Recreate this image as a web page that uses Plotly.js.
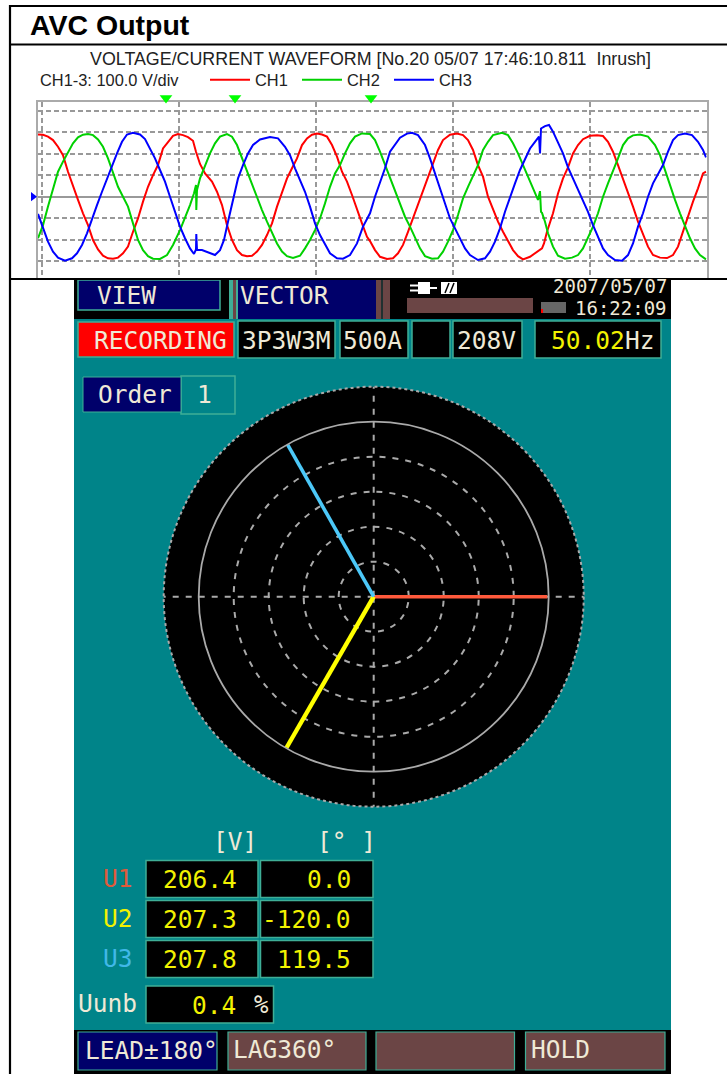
<!DOCTYPE html>
<html><head><meta charset="utf-8">
<script src="https://cdn.plot.ly/plotly-3.0.1.min.js"></script>
<style>html,body{margin:0;padding:0;background:#fff;overflow:hidden}</style>
</head><body><div id="c" style="width:727px;height:1074px"></div>
<script>
// ---- waveform data: sample position, volts ----
const ch1S=[0,5,10,15,20,25,30,35,40,45,50,55,60,65,70,75,80,85,90,95,100,105,110,115,120,125,130,135,140,145,150,155,158,162,167,174,179,184,189,194,199,204,209,214,219,224,229,234,239,244,249,254,259,264,269,274,279,284,289,294,299,304,309,314,319,324,329,332,337,342,349,355,360,365,370,375,380,385,390,395,400,405,412,419,425,430,435,440,445,450,455,460,465,470,475,480,485,492,499,504,506,509,515,520,525,530,535,540,545,552,559,565,570,575,580,585,590,595,600,605,610,615,622,629,635,640,645,650,655,660,665,668];
const ch1V=[289,288,279,263,232,193,116,46,-15,-77,-132,-201,-245,-274,-286,-288,-283,-263,-232,-163,-101,-23,46,100,147,224,255,283,291,286,277,260,209,152,108,70,23,-39,-132,-201,-248,-271,-277,-274,-255,-224,-178,-124,-46,23,85,132,178,240,271,288,293,289,279,240,186,116,70,8,-62,-124,-186,-206,-248,-279,-289,-286,-263,-224,-163,-101,-39,31,93,155,217,263,288,293,286,263,217,147,93,0,-62,-116,-163,-204,-248,-276,-291,-279,-255,-240,-217,-163,-77,15,85,136,201,240,267,283,285,282,255,209,147,85,23,-46,-116,-178,-232,-271,-283,-285,-271,-232,-163,-85,-23,39,108,116];
const ch2S=[0,5,10,15,20,25,30,35,40,45,50,55,60,65,70,75,80,85,90,95,100,105,110,115,122,129,135,142,147,152,156,158,158.3,159,162,167,172,177,182,189,194,199,204,209,214,219,224,229,234,239,244,249,255,262,267,272,277,282,287,292,297,302,307,312,317,324,332,337,342,347,352,357,362,367,372,377,382,387,394,400,405,410,415,420,425,430,435,440,445,450,455,464,470,475,480,485,490,495,500,502,503,504,507,510,515,520,527,534,540,545,550,555,560,565,570,575,580,585,590,595,602,610,617,622,627,632,637,642,647,652,657,662,668];
const ch2V=[-193,-132,-46,39,116,163,209,248,276,288,291,286,266,232,178,116,46,0,-46,-124,-201,-248,-276,-288,-289,-271,-224,-155,-101,-39,16,54,-62,31,85,147,201,248,279,291,279,240,178,116,62,0,-62,-116,-163,-217,-255,-276,-285,-274,-240,-201,-155,-101,-31,46,108,147,201,248,279,294,291,263,209,147,85,23,-31,-93,-139,-186,-240,-276,-288,-286,-255,-209,-155,-85,-8,46,100,147,217,255,286,297,286,248,201,147,100,46,-15,26,-70,-75,-116,-170,-232,-274,-288,-283,-271,-240,-193,-139,-77,0,62,116,178,240,271,285,289,279,240,193,124,46,-15,-77,-139,-193,-240,-271,-291];
const ch3S=[0,5,10,15,20,27,34,39,44,49,54,59,64,69,74,79,84,89,95,102,107,112,117,122,127,132,137,142,147,152,156,158,158.3,159,164,170,177,182,186,190,195,200,205,210,215,222,232,240,247,252,257,262,267,272,277,282,287,292,299,305,312,319,325,332,337,342,347,352,357,362,369,374,380,387,392,397,402,407,412,417,422,427,432,440,447,452,457,462,467,472,477,482,487,492,497,501,502,503,507,511,515,520,525,530,535,540,545,550,555,560,565,570,577,584,590,595,600,605,610,615,620,625,630,635,640,647,654,660,665,668];
const ch3V=[-80,-147,-209,-255,-283,-297,-286,-263,-224,-170,-101,-39,23,85,139,201,255,289,297,289,268,224,178,124,70,0,-70,-139,-193,-240,-266,-245,-173,-248,-248,-260,-271,-248,-201,-116,-15,85,147,201,240,266,277,271,232,193,132,77,23,-46,-124,-178,-224,-263,-286,-288,-271,-217,-139,-77,0,62,132,209,240,274,293,297,286,240,178,108,39,-39,-101,-147,-193,-240,-271,-294,-286,-255,-209,-147,-70,0,62,124,178,224,255,279,201,317,328,333,302,255,201,136,85,39,-15,-70,-132,-186,-240,-271,-294,-297,-271,-217,-139,-77,0,62,108,147,209,263,286,294,286,255,217,183];
const traceMarks=[128,197,333];
// ---- vector data ----
const phaseNames=['U1','U2','U3'];
const phaseV=[206.4,207.3,207.8];
const phaseDeg=[0.0,-120.0,119.5];
const ringV=[41.6,83.2,124.8,166.4];
const unbalance='0.4';

const W=727,H=1074;
const F='"DejaVu Sans Mono",monospace';
const S='"Liberation Sans",Arial,sans-serif';
const CREAM='#efe9d6',YEL='#f2f200',TEAL='#008489',EDGE='#3fae96',NAVY='#00006a',BROWN='#6b4545';
const shapes=[],anns=[];
function rect(x0,y0,x1,y1,fill,line,lw,layer){shapes.push({type:'rect',xref:'paper',yref:'paper',x0:x0/W,x1:x1/W,y0:1-y0/H,y1:1-y1/H,fillcolor:fill,line:{color:line||fill,width:line?(lw||1.5):0},layer:layer||'below'});}
function hline(x0,y0,x1,y1,c,w){shapes.push({type:'line',xref:'paper',yref:'paper',x0:x0/W,x1:x1/W,y0:1-y0/H,y1:1-y1/H,line:{color:c,width:w},layer:'above'});}
function circle(r,c,w,dash){shapes.push({type:'circle',xref:'paper',yref:'paper',x0:(373.7-r)/W,x1:(373.7+r)/W,y0:1-(596.7+r)/H,y1:1-(596.7-r)/H,line:{color:c,width:w,dash:dash},layer:'above'});}
function txt(t,x,y,col,size,anchor,fam,bold){anns.push({text:bold?'<b>'+t+'</b>':t,xref:'paper',yref:'paper',x:x/W,y:1-y/H,xanchor:anchor||'left',yanchor:'middle',showarrow:false,borderpad:0,font:{family:fam||F,size:size||24.5,color:col}});}

// outer frame
hline(10,6,727,6,'#000',2.2);hline(10,44.5,727,44.5,'#000',2.2);hline(10,279,727,279,'#000',2.2);hline(10,5,10,1074,'#000',2.2);
txt('AVC Output',29,25,'#000',28.5,'left',S,true);
txt('CH1-3: 100.0 V/div',39,80,'#222',16.4,'left',S);

// instrument panel
rect(74,280,671,1074,TEAL);
rect(74,280,671,319,'#000');
rect(78,280,220,310,NAVY,EDGE,1.5);
rect(229,280,233,319,EDGE);rect(233,280,236,319,BROWN);rect(236,280,238,319,EDGE);
rect(376,280,381,319,BROWN);rect(381,280,383,319,'#203030');rect(383,280,390,319,BROWN);
rect(238,280,376,319,NAVY);
rect(407,298,533,313,BROWN);rect(541,302,566,313,'#666');rect(541,309,543,313,'#f00');
rect(418,282,430,294,'#fff');rect(410,284.5,418,286.5,'#fff');rect(410,289.5,418,291.5,'#fff');rect(430,287,437,289,'#fff');
rect(441,282,457,294,'#fff');
hline(445,293,449,283,'#000',1.5);hline(450,293,454,283,'#000',1.5);
txt('VIEW',96,295,CREAM,24.5);txt('VECTOR',239,296,CREAM,24.5);
txt('2007/05/07',668,286.5,CREAM,19,'right');txt('16:22:09',668,308.5,CREAM,19,'right');
rect(78,322,234,357,'#f00',EDGE,1.5);
[[238,335],[340,408],[412,450],[453,522],[535,661]].forEach(b=>rect(b[0],321,b[1],358,'#000',EDGE,1.5));
txt('RECORDING',93,340,CREAM);txt('3P3W3M',241,340,CREAM);txt('500A',342,340,CREAM);txt('208V',456,340,CREAM);
txt('50.02',550,340,YEL);txt('Hz',624,340,CREAM);
rect(181,376,235,414,TEAL,EDGE,1.5);rect(83,377,181,412,NAVY,EDGE,1);
txt('Order',97,395,CREAM);txt('1',204,395,CREAM,24.5,'center');
txt('[V]',212,841,CREAM);txt('[° ]',316,841,CREAM);
const labelCol=['#e05a3a',YEL,'#40b8e8'];const rowY=[879,919,959];
phaseNames.forEach((n,i)=>{const y=rowY[i];
  rect(146,y-18.5,258,y+18.5,'#000',EDGE,1.5);rect(260.5,y-18.5,373,y+18.5,'#000',EDGE,1.5);
  txt(n,102,y-1,labelCol[i]);txt(phaseV[i].toFixed(1),162,y,YEL);txt(phaseDeg[i].toFixed(1),351.5,y,YEL,24.5,'right');});
txt('Uunb',77,1003,CREAM);rect(146,986,273.5,1023,'#000',EDGE,1.5);
txt(unbalance,236.5,1005,YEL,24.5,'right');txt('%',253,1005,CREAM,24);
rect(74,1030,671,1074,'#000');
rect(78,1032,217,1070,NAVY,EDGE,1.2);rect(228,1032,366,1070,BROWN,EDGE,1.2);rect(376,1032,514.5,1070,BROWN,EDGE,1.2);rect(525.5,1032,665,1070,BROWN,EDGE,1.2);
txt('LEAD±180°',84,1050,CREAM);txt('LAG360°',232,1049,CREAM);txt('HOLD',530,1049,CREAM);
circle(175,'#aaa',1.8);circle(210,'#aaa',2,'dot');

const wave=(n,s,v,c)=>({type:'scatter',mode:'lines',name:n,x:s,y:v,line:{color:c,width:2},hoverinfo:'skip'});
const vecCol=['#ff5a3c','#ffff00','#4cc8f8'],vecW=[3.6,4.4,3.6];
const traces=[wave('CH1',ch1S,ch1V,'#ff0000'),wave('CH2',ch2S,ch2V,'#00d000'),wave('CH3',ch3S,ch3V,'#0000ff'),
 {type:'scatter',mode:'markers',xaxis:'x2',yaxis:'y2',x:traceMarks,y:traceMarks.map(()=>458),marker:{symbol:'triangle-down',size:11,color:'#00ff00'},showlegend:false,hoverinfo:'skip'},
 {type:'scatter',mode:'markers',xaxis:'x2',yaxis:'y2',x:[-5],y:[0],marker:{symbol:'triangle-right',size:8,color:'#0000ff'},showlegend:false,hoverinfo:'skip'}];
phaseV.forEach((v,i)=>traces.push({type:'scatterpolar',mode:'lines',r:[0,v],theta:[0,phaseDeg[i]],line:{color:vecCol[i],width:vecW[i]},showlegend:false,hoverinfo:'skip'}));

const layout={width:W,height:H,margin:{l:0,r:0,t:0,b:0},paper_bgcolor:'#fff',plot_bgcolor:'rgba(0,0,0,0)',showlegend:true,
 title:{text:'VOLTAGE/CURRENT WAVEFORM [No.20 05/07 17:46:10.811  Inrush]',x:370.5/W,xanchor:'center',y:1-59/H,yanchor:'middle',font:{family:S,size:17.85,color:'#222'}},
 legend:{orientation:'h',x:205/W,xanchor:'left',y:1-80/H,yanchor:'middle',entrywidth:37,entrywidthmode:'pixels',itemwidth:40,bgcolor:'rgba(0,0,0,0)',font:{family:S,size:16.4,color:'#222'},tracegroupgap:0},
 xaxis:{domain:[38/W,706.7/W],range:[0,668.7],tick0:3.7,dtick:137,showticklabels:false,ticks:'',zeroline:false,showgrid:true,gridcolor:'#999',griddash:'5px,3px',gridwidth:1.5,showline:true,mirror:true,linecolor:'#aaa',linewidth:1.6},
 yaxis:{domain:[1-278/H,1-102/H],range:[-377.6,439.9],tick0:0,dtick:100,showticklabels:false,ticks:'',showgrid:true,gridcolor:'#999',griddash:'5px,3px',gridwidth:1.5,zeroline:true,zerolinecolor:'#999',zerolinewidth:1.6,showline:true,mirror:true,linecolor:'#aaa',linewidth:1.6},
 xaxis2:{domain:[20/W,710/W],range:[-18,672],visible:false,anchor:'y2'},
 yaxis2:{domain:[1-280/H,1-88/H],range:[-386.9,504.9],visible:false,anchor:'x2'},
 polar:{domain:{x:[163.7/W,583.7/W],y:[1-806.7/H,1-386.7/H]},bgcolor:'#000',
  radialaxis:{range:[0,249.6],tickvals:ringV,showticklabels:false,ticks:'',showline:false,gridcolor:'#aaa',griddash:'6px,7px',gridwidth:1.5},
  angularaxis:{tickmode:'array',tickvals:[0,90,180,270],showticklabels:false,ticks:'',showline:false,rotation:0,direction:'counterclockwise',gridcolor:'#aaa',griddash:'6px,7px',gridwidth:1.5}},
 shapes:shapes,annotations:anns};
Plotly.newPlot('c',traces,layout,{displayModeBar:false,responsive:false});
</script></body></html>
